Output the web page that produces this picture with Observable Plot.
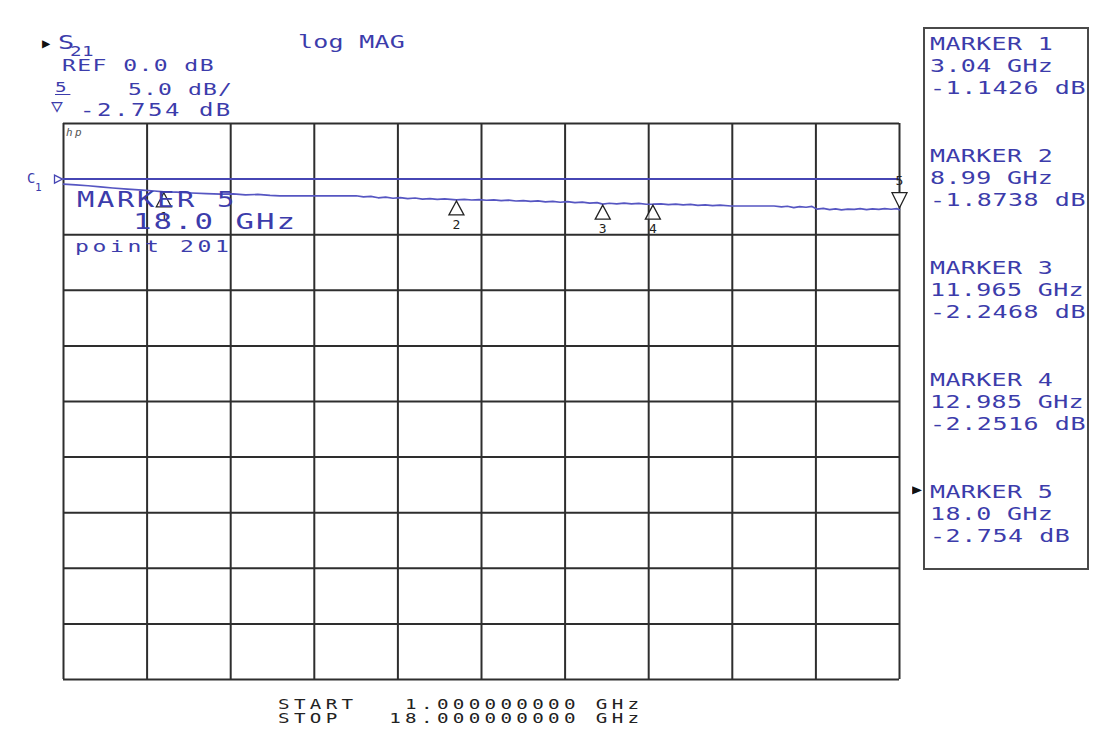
<!DOCTYPE html>
<html><head><meta charset="utf-8">
<script src="https://cdn.jsdelivr.net/npm/d3@7"></script>
<script src="https://cdn.jsdelivr.net/npm/@observablehq/plot@0.6"></script>
<style>
html,body{margin:0;padding:0;background:#fff;width:1094px;height:742px;overflow:hidden}
#wrap{position:relative;width:1094px;height:742px}
#chart{position:absolute;left:0;top:0}
.t{position:absolute;white-space:pre;font-family:"DejaVu Sans Mono",monospace;line-height:0.8;transform-origin:0 0;color:#3c3cab}
#panel{position:absolute;left:923px;top:27px;width:162px;height:539px;border:2px solid #4a4a4a;box-sizing:content-box}
</style></head><body><div id="wrap"><div id="chart"></div><div id="panel"></div></div>
<script>
// ---- data ----
const frequencyGHz = [1.0, 1.25, 1.5, 1.75, 2.0, 2.3, 2.6, 2.85, 3.04, 3.3, 3.6, 3.9, 4.2, 4.45, 4.7, 4.95, 5.2, 5.4, 6.95, 7.1, 7.25, 7.4, 7.55, 7.7, 7.85, 8.0, 8.15, 8.3, 8.45, 8.6, 8.75, 8.99, 9.15, 9.3, 9.45, 9.6, 9.75, 9.9, 10.05, 10.2, 10.35, 10.5, 10.65, 10.8, 10.95, 11.1, 11.25, 11.4, 11.55, 11.7, 11.85, 11.965, 12.1, 12.25, 12.4, 12.55, 12.7, 12.85, 12.985, 13.15, 13.3, 13.45, 13.6, 13.75, 13.9, 14.05, 14.2, 14.35, 14.57, 15.45, 15.6, 15.72, 15.85, 15.97, 16.1, 16.22, 16.32, 16.45, 16.58, 16.7, 16.82, 16.95, 17.08, 17.2, 17.33, 17.45, 17.58, 17.7, 17.83, 17.95, 18.0];
const magnitudeDb = [-0.45, -0.52, -0.6, -0.7, -0.8, -0.9, -1.0, -1.07, -1.1426, -1.18, -1.25, -1.3, -1.36, -1.33, -1.42, -1.38, -1.47, -1.5, -1.5, -1.6, -1.55, -1.68, -1.62, -1.72, -1.66, -1.76, -1.7, -1.8, -1.75, -1.83, -1.78, -1.8738, -1.82, -1.88, -1.84, -1.9, -1.86, -1.93, -1.89, -1.97, -1.93, -2.0, -1.96, -2.04, -2.0, -2.08, -2.03, -2.12, -2.07, -2.16, -2.12, -2.2468, -2.17, -2.22, -2.16, -2.23, -2.18, -2.26, -2.2516, -2.22, -2.3, -2.25, -2.32, -2.28, -2.36, -2.31, -2.38, -2.34, -2.42, -2.42, -2.5, -2.44, -2.56, -2.47, -2.53, -2.46, -2.7, -2.64, -2.74, -2.67, -2.76, -2.7, -2.73, -2.66, -2.74, -2.68, -2.72, -2.65, -2.71, -2.66, -2.754];
const markerIds = [1, 2, 3, 4, 5];
const markerGHz = [3.04, 8.99, 11.965, 12.985, 18.0];
const markerDb = [-1.1426, -1.8738, -2.2468, -2.2516, -2.754];
const markerFreqLabels = ["3.04 GHz", "8.99 GHz", "11.965 GHz", "12.985 GHz", "18.0 GHz"];
const markerDbLabels = ["-1.1426 dB", "-1.8738 dB", "-2.2468 dB", "-2.2516 dB", "-2.754 dB"];
const activeMarker = 5;
const xDivisionsGHz = [1, 2.7, 4.4, 6.1, 7.8, 9.5, 11.2, 12.9, 14.6, 16.3, 18];
const yDivisionsDb = [5, 0, -5, -10, -15, -20, -25, -30, -35, -40, -45];
const refLevelDb = 0;
const scaleDbPerDiv = 5.0;
const startGHz = 1.0, stopGHz = 18.0, activePoint = 201;

// ---- plot ----
const trace = frequencyGHz.map((f, i) => ({f, db: magnitudeDb[i]}));
const markers = markerIds.map((id, i) => ({id, f: markerGHz[i], db: markerDb[i]}));
const passive = markers.filter(d => d.id !== activeMarker);
const active = markers.filter(d => d.id === activeMarker);
const upTri = {draw(ctx) { ctx.moveTo(0, 1); ctx.lineTo(-7.5, 15); ctx.lineTo(7.5, 15); ctx.closePath(); }};
const downTri = {draw(ctx) { ctx.moveTo(0, -2); ctx.lineTo(-7.5, -17); ctx.lineTo(7.5, -17); ctx.closePath(); }};
const refTri = {draw(ctx) { ctx.moveTo(-1, 0); ctx.lineTo(-9, -4); ctx.lineTo(-9, 4); ctx.closePath(); }};
const grid = "#2e2e2e", blue = "#4646b4";

const plot = Plot.plot({
  width: 1094, height: 742,
  marginLeft: 63, marginRight: 195, marginTop: 123, marginBottom: 63,
  x: {domain: [startGHz, stopGHz], axis: null},
  y: {domain: [yDivisionsDb[yDivisionsDb.length - 1], yDivisionsDb[0]], axis: null},
  style: {background: "transparent", overflow: "visible"},
  marks: [
    Plot.ruleX(xDivisionsGHz, {stroke: grid, strokeWidth: 2}),
    Plot.ruleY(yDivisionsDb, {stroke: grid, strokeWidth: 2}),
    Plot.ruleY([refLevelDb], {stroke: blue, strokeWidth: 2}),
    Plot.line(trace, {x: "f", y: "db", stroke: "#5656c2", strokeWidth: 1.7}),
    Plot.dot(passive, {x: "f", y: "db", symbol: upTri, fill: "white", fillOpacity: 0.6, stroke: "#222", strokeWidth: 1.3}),
    Plot.text(passive, {x: "f", y: "db", text: "id", dy: 25, fontSize: 13, fill: "#222", fontFamily: "DejaVu Sans Mono"}),
    Plot.dot(active, {x: "f", y: "db", symbol: downTri, fill: "white", stroke: "#222", strokeWidth: 1.3}),
    Plot.text(active, {x: "f", y: "db", text: "id", dy: -29, fontSize: 13, fill: "#222", fontFamily: "DejaVu Sans Mono"}),
    Plot.dot([refLevelDb], {x: () => startGHz, y: d => d, symbol: refTri, fill: "none", stroke: blue, strokeWidth: 1.3})
  ]
});
document.getElementById("chart").appendChild(plot);

// ---- text ----
const wrap = document.getElementById("wrap");
const SX = 1.4;
function label(str, left, capTop, capH, adv, opts = {}) {
  const size = capH / 0.729;
  const sx = opts.sx ?? SX;
  const d = document.createElement("div");
  d.className = "t";
  d.textContent = str;
  d.style.fontSize = size + "px";
  d.style.letterSpacing = (adv / sx - 0.602 * size) + "px";
  d.style.left = left + "px";
  // line-height 0.8: baseline at 0.746em from the box top, cap top at 0.017em
  d.style.top = (capTop - 0.017 * size) + "px";
  d.style.transform = `scaleX(${sx})`;
  if (opts.color) d.style.color = opts.color;
  if (opts.style) Object.assign(d.style, opts.style);
  wrap.appendChild(d);
  return d;
}
const ai = markerIds.indexOf(activeMarker);
// header
label("▶", 42, 38, 10, 12, {color: "#111", sx: 1});
label("S", 58, 35, 14, 15);
label("21", 70, 46, 10, 12);
label(`REF ${refLevelDb.toFixed(1)} dB`, 62, 59, 12, 15.3);
label(String(activeMarker), 55, 82, 10, 15, {style: {borderBottom: "1.5px solid #3c3cab", paddingBottom: "1px"}});
label(`${scaleDbPerDiv.toFixed(1)} dB/`, 128, 83, 12, 15);
label("▽", 51, 99, 13, 18, {sx: 1.1});
label(markerDbLabels[ai], 80, 104, 12.5, 17);
label("log MAG", 298, 35, 13, 15.3);
// marker panel
markerIds.forEach((id, k) => {
  label(`MARKER ${id}`, 930, 37 + 112 * k, 13, 15.4);
  label(markerFreqLabels[k], 930, 59 + 112 * k, 13, 15.4);
  label(markerDbLabels[k], 930, 81 + 112 * k, 13, 15.6);
});
label("▶", 912, 484, 10, 12, {color: "#111", sx: 1.2});
// in-plot annotation
label("hp", 66, 129, 8, 9, {sx: 1, color: "#555", style: {fontStyle: "italic"}});
label("C", 27, 173, 10, 11, {sx: 1});
label("1", 35, 184, 8, 8, {sx: 1});
label(`MARKER ${activeMarker}`, 77, 192, 15, 20);
label(markerFreqLabels[ai], 133, 213, 16, 20.5);
label(`point ${activePoint}`, 75, 240, 12, 17.5);
// footer
label(`START   ${startGHz.toFixed(9)} GHz`, 278, 699, 10, 15.9, {color: "#222"});
label(`STOP   ${stopGHz.toFixed(9)} GHz`, 278, 713, 10, 15.9, {color: "#222"});
</script></body></html>
